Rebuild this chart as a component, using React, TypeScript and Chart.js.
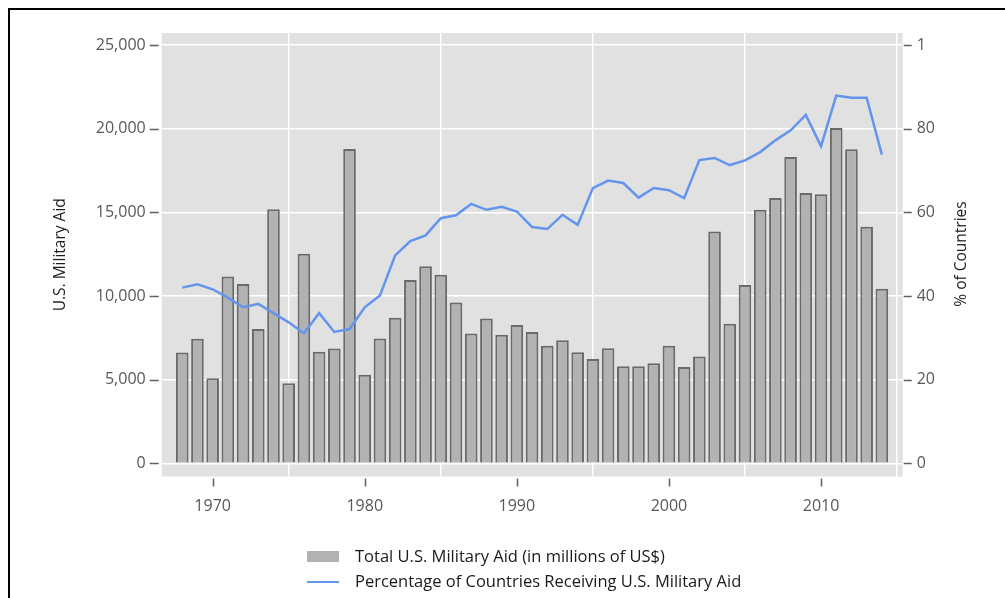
import React, { useEffect, useRef } from "react";
import { Chart, registerables } from "chart.js";

Chart.register(...registerables);

const years = [
  1968, 1969, 1970, 1971, 1972, 1973, 1974, 1975, 1976, 1977, 1978, 1979,
  1980, 1981, 1982, 1983, 1984, 1985, 1986, 1987, 1988, 1989,
  1990, 1991, 1992, 1993, 1994, 1995, 1996, 1997, 1998, 1999,
  2000, 2001, 2002, 2003, 2004, 2005, 2006, 2007, 2008, 2009,
  2010, 2011, 2012, 2013, 2014,
];

const militaryAid = [
  6620, 7440, 5090, 11170, 10710, 8020, 15180, 4790, 12520, 6660, 6860, 18790,
  5290, 7460, 8700, 10950, 11770, 11270, 9610, 7760, 8660, 7680,
  8260, 7840, 7020, 7360, 6640, 6240, 6880, 5800, 5800, 5980,
  7020, 5760, 6380, 13860, 8340, 10650, 15160, 15860, 18310, 16150,
  16080, 20040, 18770, 14140, 10430,
];

const pctCountries = [
  42.0, 42.8, 41.6, 39.6, 37.3, 38.1, 35.9, 33.7, 31.1, 35.9, 31.4, 32.1,
  37.3, 40.1, 49.7, 53.1, 54.5, 58.6, 59.3, 62.0, 60.6, 61.3,
  60.2, 56.5, 56.0, 59.4, 57.0, 65.8, 67.6, 67.0, 63.5, 65.8,
  65.3, 63.4, 72.5, 73.0, 71.3, 72.4, 74.4, 77.2, 79.6, 83.3,
  75.8, 87.9, 87.4, 87.4, 73.8,
];

const xTicks = [1970, 1980, 1990, 2000, 2010];
const leftTicks = [0, 5000, 10000, 15000, 20000, 25000];
const rightTicks = [0, 20, 40, 60, 80, 100];
const rightTickLabels = ["0", "20", "40", "60", "80", "1"];

const barLabel = "Total U.S. Military Aid (in millions of US$)";
const lineLabel = "Percentage of Countries Receiving U.S. Military Aid";
const leftTitle = "U.S. Military Aid";
const rightTitle = "% of Countries";

const FONT = "'Open Sans', 'DejaVu Sans', sans-serif";
const PANEL = "#e1e1e1";
const BAR_FILL = "#b2b2b2";
const BAR_EDGE = "#6a6a6a";
const LINE = "#6495ed";
const TICK_TEXT = "#585858";

const panelPlugin = {
  id: "panelBg",
  beforeDraw(chart: any) {
    const { ctx, chartArea: a } = chart;
    ctx.save();
    ctx.fillStyle = PANEL;
    ctx.fillRect(a.left, a.top, a.right - a.left, a.bottom - a.top);
    ctx.restore();
  },
  afterDraw(chart: any) {
    const { ctx, chartArea: a, scales } = chart;
    ctx.save();
    ctx.strokeStyle = "#606060";
    ctx.lineWidth = 1.5;
    ctx.beginPath();
    scales.y.ticks.forEach((t: any) => {
      const py = Math.round(scales.y.getPixelForValue(t.value)) + 0.5;
      ctx.moveTo(a.left - 12, py);
      ctx.lineTo(a.left - 3, py);
    });
    scales.y1.ticks.forEach((t: any) => {
      const py = Math.round(scales.y1.getPixelForValue(t.value)) + 0.5;
      ctx.moveTo(a.right + 1, py);
      ctx.lineTo(a.right + 9, py);
    });
    scales.x.ticks.forEach((t: any) => {
      const px = Math.round(scales.x.getPixelForValue(t.value)) + 0.5;
      ctx.moveTo(px, a.bottom + 2);
      ctx.lineTo(px, a.bottom + 10);
    });
    ctx.stroke();
    ctx.restore();
  },
};

export default function App() {
  const canvasRef = useRef<HTMLCanvasElement | null>(null);

  useEffect(() => {
    const canvas = canvasRef.current;
    if (!canvas) return;
    const chart = new Chart(canvas, {
      type: "bar",
      data: {
        datasets: [
          {
            type: "line",
            label: lineLabel,
            data: years.map((y, i) => ({ x: y, y: pctCountries[i] })),
            yAxisID: "y1",
            borderColor: LINE,
            borderWidth: 2.5,
            pointRadius: 0,
            tension: 0,
            fill: false,
            order: 0,
          } as any,
          {
            type: "bar",
            label: barLabel,
            data: years.map((y, i) => ({ x: y, y: militaryAid[i] })),
            yAxisID: "y",
            backgroundColor: BAR_FILL,
            borderColor: BAR_EDGE,
            borderWidth: 2,
            barPercentage: 0.83,
            categoryPercentage: 1,
            order: 1,
          } as any,
        ],
      },
      options: {
        responsive: false,
        animation: false,
        devicePixelRatio: 1,
        layout: { padding: { top: 33, left: 0, right: 0, bottom: 0 } },
        plugins: {
          legend: { display: false },
          tooltip: { enabled: false },
        },
        scales: {
          x: {
            type: "linear",
            min: 1966.65,
            max: 2015.37,
            offset: false,
            border: { display: false },
            grid: { color: "#ffffff", lineWidth: 1.5, drawTicks: false },
            afterBuildTicks: (s: any) => {
              s.ticks = xTicks.map((v) => ({ value: v }));
            },
            afterFit: (s: any) => {
              s.height = 121.5;
            },
            ticks: {
              padding: 20,
              color: TICK_TEXT,
              font: { family: FONT, size: 16 },
              callback: (v: any) => String(v),
              maxRotation: 0,
            },
          },
          y: {
            type: "linear",
            position: "left",
            min: -789,
            max: 25717,
            border: { display: false },
            grid: { color: "#ffffff", lineWidth: 1.5, drawTicks: false },
            afterBuildTicks: (s: any) => {
              s.ticks = leftTicks.map((v) => ({ value: v }));
            },
            afterFit: (s: any) => {
              s.width = 161.7;
            },
            ticks: {
              padding: 16,
              color: TICK_TEXT,
              font: { family: FONT, size: 16 },
              callback: (v: any) => Number(v).toLocaleString("en-US"),
            },
            title: {
              display: true,
              text: leftTitle,
              color: "#1e1e1e",
              font: { family: FONT, size: 15.5 },
              padding: { top: 51, bottom: 0 },
            },
          },
          y1: {
            type: "linear",
            position: "right",
            min: -3.16,
            max: 102.87,
            border: { display: false },
            grid: { drawOnChartArea: false, drawTicks: false },
            afterBuildTicks: (s: any) => {
              s.ticks = rightTicks.map((v) => ({ value: v }));
            },
            afterFit: (s: any) => {
              s.width = 102.3;
            },
            ticks: {
              padding: 14,
              color: TICK_TEXT,
              font: { family: FONT, size: 16 },
              callback: (v: any) => {
                const idx = rightTicks.indexOf(Number(v));
                return idx >= 0 ? rightTickLabels[idx] : "";
              },
            },
          },
        },
      },
      plugins: [panelPlugin],
    });
    return () => chart.destroy();
  }, []);

  return (
    <div
      style={{
        position: "fixed",
        left: 0,
        top: 0,
        width: 1005,
        height: 598,
        overflow: "hidden",
        background: "#ffffff",
        fontFamily: FONT,
      }}
    >
      <canvas
        ref={canvasRef}
        width={1005}
        height={598}
        style={{ position: "absolute", left: 0, top: 0, width: 1005, height: 598 }}
      />
      <div style={{ position: "absolute", left: 8, top: 8, width: 997, height: 2, background: "#000" }} />
      <div style={{ position: "absolute", left: 8, top: 8, width: 2, height: 590, background: "#000" }} />
      <div
        style={{
          position: "absolute",
          left: 960 - 100,
          top: 254 - 10,
          width: 200,
          height: 20,
          lineHeight: "20px",
          textAlign: "center",
          fontSize: 15.5,
          color: "#1e1e1e",
          transform: "rotate(-90deg)",
          whiteSpace: "nowrap",
        }}
      >
        {rightTitle}
      </div>
      <div style={{ position: "absolute", left: 307, top: 551, width: 32, height: 11, background: BAR_FILL }} />
      <div
        style={{
          position: "absolute",
          left: 355,
          top: 546,
          height: 20,
          lineHeight: "20px",
          fontSize: 16.5,
          color: "#1a1a1a",
          whiteSpace: "nowrap",
        }}
      >
        {barLabel}
      </div>
      <div style={{ position: "absolute", left: 307, top: 581, width: 32, height: 2, background: LINE }} />
      <div
        style={{
          position: "absolute",
          left: 355,
          top: 571,
          height: 20,
          lineHeight: "20px",
          fontSize: 16.5,
          color: "#1a1a1a",
          whiteSpace: "nowrap",
        }}
      >
        {lineLabel}
      </div>
    </div>
  );
}
